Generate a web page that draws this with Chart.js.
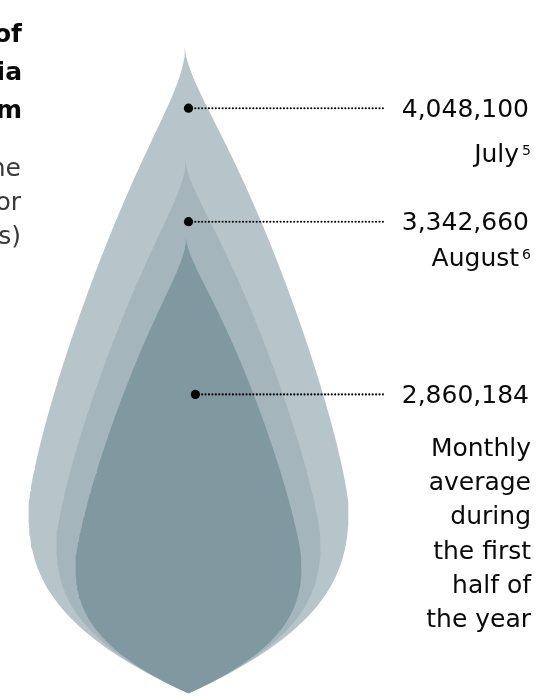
<!DOCTYPE html>
<html>
<head>
<meta charset="utf-8">
<script src="https://cdn.jsdelivr.net/npm/chart.js@4.4.1/dist/chart.umd.min.js"></script>
<style>
  html, body { margin: 0; padding: 0; background: #fff; }
  #wrap { position: relative; width: 553px; height: 698px; overflow: hidden; }
</style>
</head>
<body>
<div id="wrap"><canvas id="chart"></canvas></div>
<script>
// --- Data ---
const categories = ['July', 'August', 'Monthly average during the first half of the year'];
const values = [4048100, 3342660, 2860184];
const footnotes = ['5', '6', ''];
const captionLines = [
    ['July'],
    ['August'],
    ['Monthly', 'average', 'during', 'the first', 'half of', 'the year']
];
// title / subtitle are cut off by the left edge of the picture
const titleTail = ['of', 'ia', 'm'];
const subtitleTail = ['ne', 'or', 's)'];

// --- Layout (pixels) ---
const W = 553, H = 698;
const TIP_TOP = 42;          // tip of the biggest drop
const DROP_CX = 187;         // axis of the drops
const ASPECT = 0.248;        // half width / height of a drop
const anchorPx = [[187, 105], [187, 220], [194, 395]];
const LEADER_END = 387;
const TEXT_RIGHT = 530;
const captionBase = [162, 266, 456];
const CAPTION_LH = 34.2;
const dropColors = ['#b6c5ca', '#a4b6bc', '#80989f'];

// y axis in value units: 0 at the bottom of the picture
const yMax = Math.max(...values) * H / (H - TIP_TOP);
const upp = yMax / H;        // value units per pixel, same on both axes

// half width (0..1) of the drop at u (0 = tip, 1 = bottom)
function halfWidth(u) {
    if (u <= 0.71) {
        const a = u / 0.71;
        return (1 - Math.pow(1 - a, 1.3)) * (1 - Math.exp(-a / 0.1));
    }
    const b = (u - 0.71) / 0.29;
    return 1 - Math.pow(b, 2.6);
}

function dropOutline(v) {
    const n = 160;
    const right = [], left = [];
    for (let i = 0; i <= n; i++) {
        const u = i / n;
        const a = Math.min(u / 0.71, 1);
        const shift = -0.006 * v * Math.exp(-a / 0.12);   // little curl at the tip
        const hw = ASPECT * v * halfWidth(u);
        const yv = v * (1 - u);
        right.push({ x: shift + hw, y: yv });
        left.push({ x: shift - hw, y: yv });
    }
    return right.concat(left.reverse());
}

const anchors = anchorPx.map(([px, py]) => ({ x: (px - DROP_CX) * upp, y: (H - py) * upp }));

// inner drop ends up on top (lower order is drawn last)
const dropSets = values.map((v, i) => ({
    label: categories[i],
    data: dropOutline(v),
    fill: 'shape',
    backgroundColor: dropColors[i],
    borderColor: 'transparent',
    borderWidth: 1,
    pointRadius: 0,
    tension: 0,
    order: 30 - i * 10
}));

const leaderSets = anchors.map((p) => ({
    data: [p, { x: (LEADER_END - DROP_CX) * upp, y: p.y }],
    borderColor: '#000',
    borderWidth: 2.1,
    borderDash: [0.01, 3.4],
    borderCapStyle: 'round',
    pointRadius: 0,
    fill: false,
    order: 2
}));

const dotSet = {
    data: anchors,
    showLine: false,
    pointRadius: 4.6,
    pointBackgroundColor: '#000',
    pointBorderWidth: 0,
    order: 1
};

const annotate = {
    id: 'annotate',
    afterDraw(chart) {
        const { ctx, scales: { y } } = chart;
        ctx.save();
        ctx.textAlign = 'right';
        ctx.textBaseline = 'alphabetic';

        // cut-off heading on the left
        ctx.fillStyle = '#0a0a0a';
        ctx.font = 'bold 25px "DejaVu Sans"';
        titleTail.forEach((t, i) => ctx.fillText(t, 22, 42 + i * 38));
        ctx.fillStyle = '#3a3a3a';
        ctx.font = '25px "DejaVu Sans"';
        subtitleTail.forEach((t, i) => ctx.fillText(t, 21, 176 + i * 34));

        ctx.fillStyle = '#0a0a0a';
        values.forEach((v, i) => {
            const py = y.getPixelForValue(anchors[i].y);
            ctx.font = '25px "DejaVu Sans"';
            ctx.fillText(v.toLocaleString('en-US'), TEXT_RIGHT - 1, py + 8.5);

            const lines = captionLines[i];
            lines.forEach((line, j) => {
                const base = captionBase[i] + j * CAPTION_LH;
                let right = TEXT_RIGHT + 1;
                if (j === lines.length - 1 && footnotes[i]) {
                    ctx.font = '14px "DejaVu Sans"';
                    ctx.fillText(footnotes[i], right, base - 7);
                    right -= ctx.measureText(footnotes[i]).width + 3;
                }
                ctx.font = '25px "DejaVu Sans"';
                ctx.fillText(line, right, base);
            });
        });
        ctx.restore();
    }
};

new Chart(document.getElementById('chart'), {
    type: 'line',
    data: { datasets: [...dropSets, ...leaderSets, dotSet] },
    options: {
        responsive: true,
        maintainAspectRatio: false,
        animation: false,
        layout: { padding: 0 },
        scales: {
            x: { type: 'linear', display: false, min: -DROP_CX * upp, max: (W - DROP_CX) * upp },
            y: { type: 'linear', display: false, min: 0, max: yMax }
        },
        plugins: {
            legend: { display: false },
            tooltip: { enabled: false }
        }
    },
    plugins: [annotate]
});
</script>
</body>
</html>
